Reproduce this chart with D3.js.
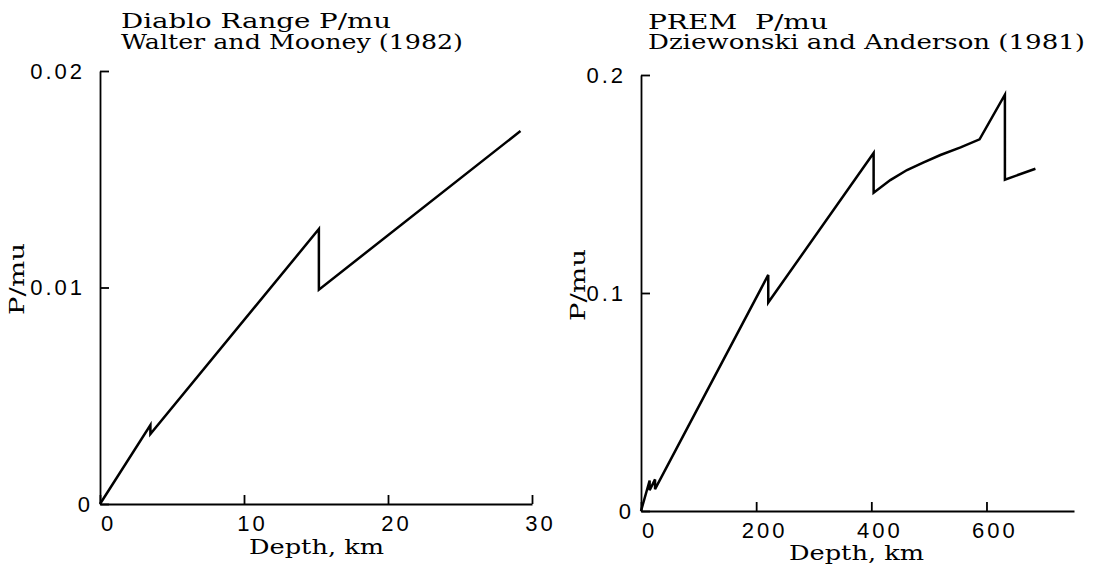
<!DOCTYPE html>
<meta charset="utf-8">
<style>
  body { margin: 0; background: #fff; }
  .title, .alabel { font-family: "DejaVu Serif", serif; fill: #000; }
  .title { font-size: 20px; }
  .alabel { font-size: 21px; }
  .tick text { font-family: "Liberation Sans", Arial, sans-serif; font-size: 22px; letter-spacing: 3px; fill: #000; }
</style>
<body>
<svg width="1097" height="564"></svg>
<script src="https://d3js.org/d3.v7.min.js"></script>
<script>
// left panel: Diablo Range (Walter and Mooney 1982)
var diabloDepth = [0, 3.5, 3.5, 15.2, 15.2, 29.2];
var diabloPmu = [0, 0.00365, 0.00323, 0.0127, 0.0099, 0.01723];
var diabloXTicks = [0, 10, 20, 30];
var diabloXLabels = ["0", "10", "20", "30"];
var diabloYTicks = [0, 0.01, 0.02];
var diabloYLabels = ["0", "0.01", "0.02"];

// right panel: PREM (Dziewonski and Anderson 1981)
var premDepth = [0, 15, 15, 24.4, 24.4, 221, 221, 404, 404, 433, 462, 490, 520, 555, 588, 632, 632, 685];
var premPmu = [0, 0.0140, 0.0095, 0.0145, 0.0100, 0.1083, 0.0956, 0.1642, 0.1460, 0.1518, 0.1564, 0.1598, 0.1633, 0.1668, 0.1705, 0.1910, 0.1520, 0.1570];
var premXTicks = [0, 200, 400, 600];
var premXLabels = ["0", "200", "400", "600"];
var premYTicks = [0, 0.1, 0.2];
var premYLabels = ["0", "0.1", "0.2"];

var svg = d3.select("svg");

function panel(o) {
    var g = svg.append("g");
    var x = d3.scaleLinear().domain(o.xDomain).range(o.xRange);
    var y = d3.scaleLinear().domain(o.yDomain).range(o.yRange);

    // x axis, ticks pointing up
    var xa = g.append("g")
        .attr("transform", `translate(0,${o.yRange[0]})`)
        .call(d3.axisBottom(x).tickValues(o.xTicks)
            .tickFormat(function (d, i) { return o.xLabels[i]; })
            .tickSize(-9).tickSizeOuter(0));
    xa.selectAll(".tick text").attr("y", 27).attr("dy", null).attr("dx", 8);

    // y axis, ticks pointing right
    var ya = g.append("g")
        .attr("transform", `translate(${o.xRange[0]},0)`)
        .call(d3.axisLeft(y).tickValues(o.yTicks)
            .tickFormat(function (d, i) { return o.yLabels[i]; })
            .tickSize(-9).tickSizeOuter(0).tickPadding(15));
    ya.selectAll(".tick text").filter(function (d) { return d === 0; }).attr("x", -7);

    g.selectAll(".domain, .tick line").attr("stroke", "#000").attr("stroke-width", 1.8);

    // the curve
    var pts = o.depth.map(function (d, i) { return [d, o.pmu[i]]; });
    g.append("path")
        .datum(pts)
        .attr("fill", "none")
        .attr("stroke", "#000")
        .attr("stroke-width", 2.5)
        .attr("stroke-linejoin", "miter")
        .attr("d", d3.line().x(function (d) { return x(d[0]); }).y(function (d) { return y(d[1]); }));

    // titles
    o.titles.forEach(function (t) {
        g.append("text").attr("class", "title")
            .attr("x", t.x).attr("y", t.y)
            .attr("xml:space", "preserve").style("white-space", "pre")
            .attr("textLength", t.len).attr("lengthAdjust", "spacingAndGlyphs")
            .text(t.text);
    });

    // axis labels
    g.append("text").attr("class", "alabel")
        .attr("x", o.xlab[0]).attr("y", o.xlab[1])
        .attr("textLength", 135).attr("lengthAdjust", "spacingAndGlyphs")
        .text("Depth, km");
    g.append("text").attr("class", "alabel")
        .attr("transform", `translate(${o.ylab[0]},${o.ylab[1]}) rotate(-90)`)
        .attr("text-anchor", "middle")
        .attr("textLength", 72).attr("lengthAdjust", "spacingAndGlyphs")
        .text("P/mu");
}

panel({
    depth: diabloDepth, pmu: diabloPmu,
    xDomain: [0, 30], xRange: [100, 532],
    yDomain: [0, 0.02], yRange: [504, 71],
    xTicks: diabloXTicks, xLabels: diabloXLabels,
    yTicks: diabloYTicks, yLabels: diabloYLabels,
    titles: [
        { text: "Diablo Range P/mu", x: 121, y: 28, len: 270 },
        { text: "Walter and Mooney (1982)", x: 121, y: 49, len: 342 }
    ],
    xlab: [249, 554], ylab: [24, 279]
});

panel({
    depth: premDepth, pmu: premPmu,
    xDomain: [0, 752], xRange: [641, 1074],
    yDomain: [0, 0.2], yRange: [511, 75],
    xTicks: premXTicks, xLabels: premXLabels,
    yTicks: premYTicks, yLabels: premYLabels,
    titles: [
        { text: "PREM  P/mu", x: 648, y: 29, len: 180 },
        { text: "Dziewonski and Anderson (1981)", x: 648, y: 49, len: 437 }
    ],
    xlab: [789, 560], ylab: [585, 285]
});
</script>
</body>
